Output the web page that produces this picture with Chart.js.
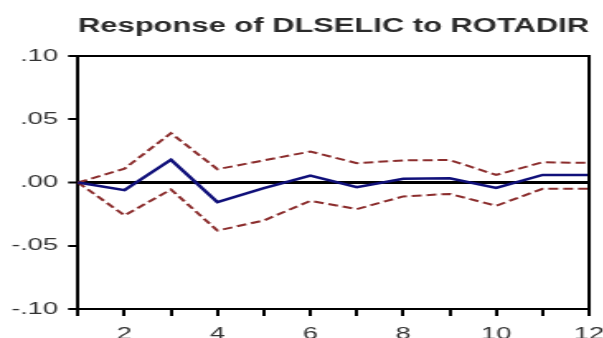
<!DOCTYPE html>
<html>
<head>
<meta charset="utf-8">
<script src="https://cdn.jsdelivr.net/npm/chart.js@4/dist/chart.umd.min.js"></script>
<style>
  html, body { margin: 0; padding: 0; background: #fff; overflow: hidden; width: 603px; height: 338px; }
  /* the chart is laid out narrow and shown stretched sideways */
  #wrap { position: absolute; left: 0; top: 0; width: 380px; height: 360px; transform: scaleX(1.65); transform-origin: 0 0; }
  canvas { display: block; }
</style>
</head>
<body>
<div id="wrap"><canvas id="c" width="380" height="360"></canvas></div>
<script>
// Impulse response of DLSELIC to a ROTADIR shock, with +/- 2 S.E. bands
const periods = [1, 2, 3, 4, 5, 6, 7, 8, 9, 10, 11, 12];
const response  = [0, -0.006, 0.018, -0.0155, -0.0045, 0.0055, -0.0037, 0.003, 0.0033, -0.0042, 0.006, 0.006];
const upperBand = [0, 0.011, 0.039, 0.0105, 0.0175, 0.0245, 0.0153, 0.0175, 0.0178, 0.006, 0.016, 0.0155];
const lowerBand = [0, -0.026, -0.0055, -0.038, -0.030, -0.0145, -0.021, -0.011, -0.009, -0.0184, -0.005, -0.005];

const yTickValues = [0.10, 0.05, 0, -0.05, -0.10];
const yTickLabels = ['.10', '.05', '.00', '-.05', '-.10'];
const titleText = 'Response of DLSELIC to ROTADIR';

const FONT = "'Liberation Sans', Arial, sans-serif";
const INK = '#000';

// top and right edges of the plot frame
const framePlugin = {
  id: 'frame',
  afterDraw(chart) {
    const { ctx, chartArea: a } = chart;
    ctx.save();
    ctx.strokeStyle = INK;
    ctx.lineWidth = 2;
    ctx.beginPath();
    ctx.moveTo(a.left, a.top);
    ctx.lineTo(a.right, a.top);
    ctx.lineTo(a.right, a.bottom);
    ctx.stroke();
    ctx.restore();
  }
};

new Chart(document.getElementById('c'), {
  type: 'line',
  data: {
    labels: periods.map(String),
    datasets: [
      { data: upperBand, borderColor: '#8b2d2d', borderWidth: 2, borderDash: [6, 3], order: 2 },
      { data: lowerBand, borderColor: '#8b2d2d', borderWidth: 2, borderDash: [6, 3], order: 2 },
      { data: response,  borderColor: '#10107a', borderWidth: 2.5, order: 1 }
    ]
  },
  options: {
    responsive: false,
    animation: false,
    devicePixelRatio: 1,
    layout: { padding: { left: 7.3, right: 23, top: 0, bottom: 0 } },
    elements: { point: { radius: 0 }, line: { tension: 0, fill: false } },
    plugins: {
      legend: { display: false },
      tooltip: { enabled: false },
      title: {
        display: true,
        text: titleText,
        fullSize: false,
        color: '#2b2b2b',
        font: { family: FONT, size: 19.6, weight: 'bold' },
        padding: { top: 15, bottom: 17.5 }
      }
    },
    scales: {
      x: {
        type: 'category',
        offset: false,
        afterFit(s) { s.height = 51; },
        border: { display: true, color: INK, width: 2 },
        grid: { drawOnChartArea: false, drawTicks: true, tickLength: 7, color: INK, lineWidth: 2 },
        ticks: {
          autoSkip: false, maxRotation: 0, padding: 9, color: '#333',
          font: { family: FONT, size: 16.5 },
          callback: (v, i) => (periods[i] % 2 === 0 ? String(periods[i]) : '')
        }
      },
      y: {
        min: -0.10,
        max: 0.10,
        afterFit(s) { s.width = 40; },
        afterBuildTicks(s) { s.ticks = yTickValues.map(v => ({ value: v })); },
        border: { display: true, color: INK, width: 2 },
        grid: {
          drawOnChartArea: true,
          drawTicks: true,
          tickLength: 6,
          color: c => (c.tick && Math.abs(c.tick.value) < 1e-9 ? INK : 'rgba(0,0,0,0)'),
          lineWidth: c => (c.tick && Math.abs(c.tick.value) < 1e-9 ? 3 : 2),
          tickColor: INK,
          tickWidth: 2
        },
        ticks: {
          padding: 6.2, color: '#333',
          font: { family: FONT, size: 16.5 },
          callback: v => {
            const i = yTickValues.findIndex(t => Math.abs(t - v) < 1e-9);
            return i >= 0 ? yTickLabels[i] : '';
          }
        }
      }
    }
  },
  plugins: [framePlugin]
});
</script>
</body>
</html>
